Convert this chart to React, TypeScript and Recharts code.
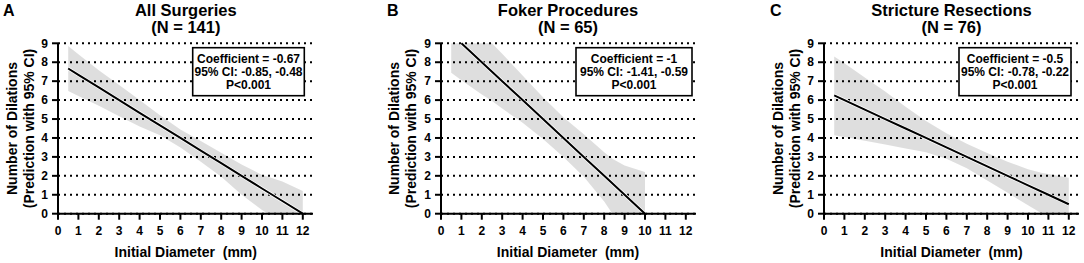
import React from 'react';
import { ComposedChart, Area, Line, XAxis, YAxis, CartesianGrid } from 'recharts';

const FONT = '"Liberation Sans", Arial, Helvetica, sans-serif';

// x positions (mm) where the fit and the 95% CI band were read
const xA = [0.5, 1, 2, 3, 4, 5, 6, 7, 8, 9, 10, 10.3, 11, 12];
const fitA = [7.67, 7.33, 6.67, 6.0, 5.33, 4.67, 4.0, 3.33, 2.67, 2.0, 1.33, null, 0.67, 0];
const loA = [6.48, 6.22, 5.7, 5.15, 4.6, 4.15, 3.5, 2.75, 1.95, 1.0, 0.2, 0, 0, 0];
const hiA = [8.86, 8.42, 7.58, 6.8, 6.0, 5.2, 4.45, 3.84, 3.22, 2.6, 2.05, 1.95, 1.7, 1.2];

const xB = [0.5, 1, 2, 2.5, 3, 4, 5, 6, 7, 8, 8.4, 9, 10];
const fitB = [null, 9, 8, 7.5, 7, 6, 5, 4, 3, 2, null, 1, 0];
const loB = [7.45, 7.05, 6.3, 5.95, 5.55, 4.8, 3.95, 3.0, 1.95, 0.65, 0, 0, 0];
const hiB = [9, 9, 9, 9, 8.45, 7.3, 6.15, 5.1, 4.2, 3.25, 2.9, 2.55, 2.2];

const xC = [0.5, 1, 2, 3, 4, 5, 6, 7, 8, 9, 10, 10.7, 11, 12];
const fitC = [6.25, 6.0, 5.5, 5.0, 4.5, 4.0, 3.5, 3.0, 2.5, 2.0, 1.5, null, 1.0, 0.5];
const loC = [4.15, 4.05, 3.85, 3.65, 3.45, 3.25, 2.9, 2.4, 1.75, 1.1, 0.45, 0, 0, 0];
const hiC = [8.3, 7.95, 7.2, 6.45, 5.65, 4.9, 4.25, 3.7, 3.2, 2.75, 2.35, 2.15, 2.1, 1.9];

const xTicks = [0, 1, 2, 3, 4, 5, 6, 7, 8, 9, 10, 11, 12];
const yTicks = [0, 1, 2, 3, 4, 5, 6, 7, 8, 9];

const toRows = (xs: number[], fit: (number | null)[], lo: number[], hi: number[]) =>
  xs.map((x, i) => ({ x, fit: fit[i], band: [lo[i], hi[i]] }));

const panels = [
  {
    letter: 'A', title: 'All Surgeries', n: '(N = 141)', x0: 58.3, letterX: 3, boxX: 192.7, boxW: 111.6,
    stats: ['Coefficient = -0.67', '95% CI: -0.85, -0.48', 'P<0.001'],
    rows: toRows(xA, fitA, loA, hiA),
  },
  {
    letter: 'B', title: 'Foker Procedures', n: '(N = 65)', x0: 440.5, letterX: 387, boxX: 576, boxW: 116,
    stats: ['Coefficient = -1', '95% CI: -1.41, -0.59', 'P<0.001'],
    rows: toRows(xB, fitB, loB, hiB),
  },
  {
    letter: 'C', title: 'Stricture Resections', n: '(N = 76)', x0: 824, letterX: 770, boxX: 959, boxW: 112,
    stats: ['Coefficient = -0.5', '95% CI: -0.78, -0.22', 'P<0.001'],
    rows: toRows(xC, fitC, loC, hiC),
  },
];

const PLOT_W = 255;
const PLOT_TOP = 43.3;
const PLOT_BOTTOM = 213.7;
const tickStyle = { fill: '#000', fontSize: 12, fontWeight: 700, fontFamily: FONT };
const axisStroke = { stroke: '#000', strokeWidth: 2 };

const Panel = ({ p }: any) => (
  <div style={{ position: 'absolute', left: p.x0 - 58, top: 0 }}>
    <ComposedChart
      width={58 + PLOT_W + 4}
      height={263}
      data={p.rows}
      margin={{ top: PLOT_TOP, right: 4, bottom: 263 - PLOT_BOTTOM - 30, left: 28 }}
    >
      <CartesianGrid vertical={false} stroke="#000" strokeWidth={2} strokeDasharray="2 4" />
      <XAxis
        type="number"
        dataKey="x"
        domain={[0, 12.5]}
        ticks={xTicks}
        interval={0}
        height={30}
        tickSize={6}
        tickMargin={7}
        tick={tickStyle}
        tickLine={axisStroke}
        axisLine={axisStroke}
      />
      <YAxis
        type="number"
        domain={[0, 9]}
        ticks={yTicks}
        interval={0}
        width={30}
        tickSize={6}
        tickMargin={4}
        tick={tickStyle}
        tickLine={axisStroke}
        axisLine={axisStroke}
      />
      <Area
        type="linear"
        dataKey="band"
        stroke="none"
        fill="#000"
        fillOpacity={0.13}
        isAnimationActive={false}
        dot={false}
        activeDot={false}
      />
      <Line type="linear" dataKey="fit" stroke="#fff" strokeWidth={3.4} dot={false} activeDot={false} connectNulls isAnimationActive={false} />
      <Line type="linear" dataKey="fit" stroke="#000" strokeWidth={2} dot={false} activeDot={false} connectNulls isAnimationActive={false} />
    </ComposedChart>
  </div>
);

const Labels = () => (
  <svg width={1084} height={263} style={{ position: 'absolute', left: 0, top: 0, pointerEvents: 'none' }} fontFamily={FONT} fontWeight={700}>
    {panels.map((p) => {
      const cx = p.x0 + PLOT_W / 2;
      const cy = (PLOT_TOP + PLOT_BOTTOM) / 2;
      return (
        <g key={p.letter}>
          <text x={p.letterX} y={15.5} fontSize={16}>{p.letter}</text>
          <text x={cx} y={15.8} fontSize={16.5} textAnchor="middle">{p.title}</text>
          <text x={cx} y={33} fontSize={16.5} textAnchor="middle">{p.n}</text>
          <text x={cx} y={256.7} fontSize={14} textAnchor="middle" style={{ whiteSpace: 'pre' }}>{'Initial Diameter  (mm)'}</text>
          <text transform={`translate(${p.x0 - 41.5},${cy}) rotate(-90)`} fontSize={14} textAnchor="middle">Number of Dilations</text>
          <text transform={`translate(${p.x0 - 24.5},${cy}) rotate(-90)`} fontSize={14} textAnchor="middle">(Prediction with 95% CI)</text>
          <rect x={p.boxX} y={47.7} width={p.boxW} height={48} fill="#fff" stroke="#000" strokeWidth={1.6} />
          {p.stats.map((s: string, i: number) => (
            <text key={i} x={p.boxX + p.boxW / 2} y={62.6 + i * 13.4} fontSize={12} textAnchor="middle">{s}</text>
          ))}
        </g>
      );
    })}
  </svg>
);

export default function App() {
  return (
    <div style={{ position: 'absolute', left: 0, top: 0, width: 1084, height: 263, overflow: 'hidden', background: '#fff' }}>
      {panels.map((p) => <Panel key={p.letter} p={p} />)}
      <Labels />
    </div>
  );
}
